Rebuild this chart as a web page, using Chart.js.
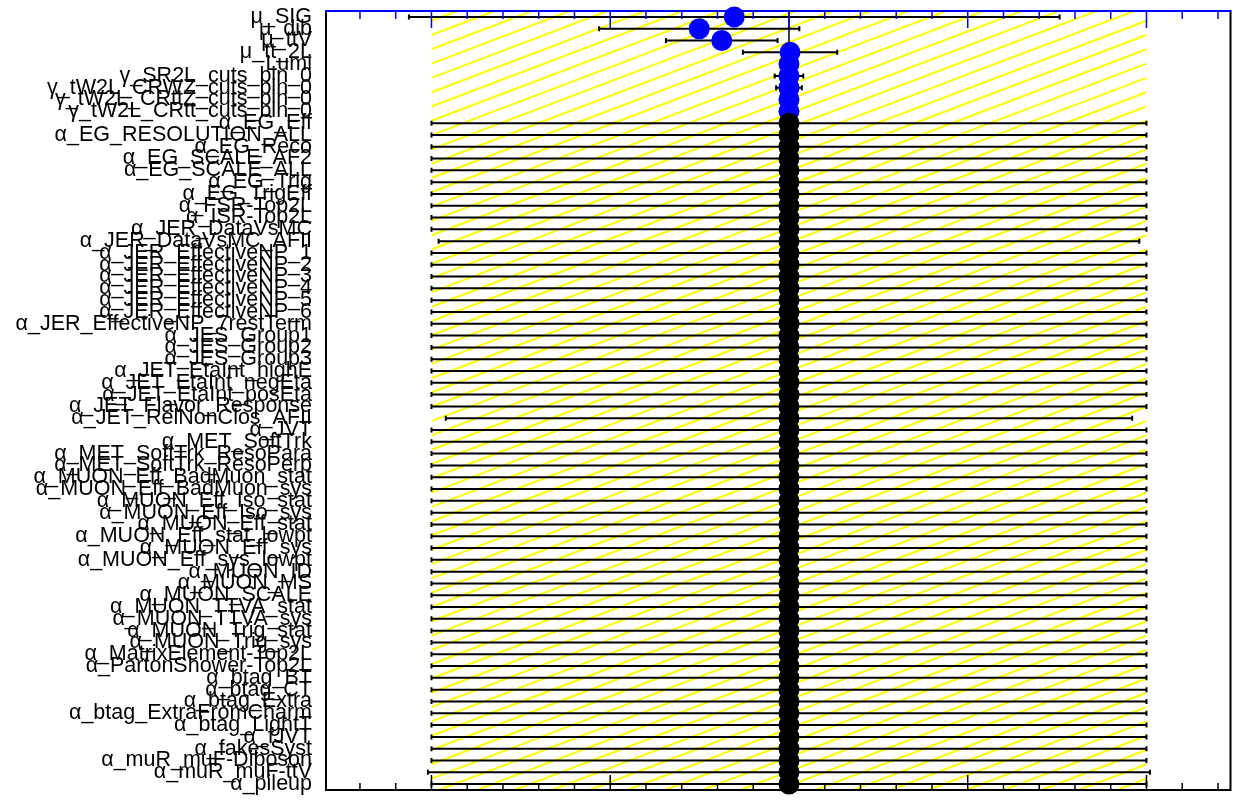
<!DOCTYPE html>
<html>
<head>
<meta charset="utf-8">
<script src="https://cdn.jsdelivr.net/npm/chart.js@4.4.1/dist/chart.umd.min.js"></script>
<style>
  html, body { margin: 0; padding: 0; background: #ffffff; }
</style>
</head>
<body>
<canvas id="pulls" width="1241" height="801"></canvas>
<script>
// ------------------------------------------------------------
//  Data: fitted nuisance parameters / POIs (pull and error)
// ------------------------------------------------------------
const PARAMS = [
  'μ_SIG', 'μ_dib', 'μ_ttV', 'μ_tt_2L', 'Lumi',
  'γ_SR2L_cuts_bin_0', 'γ_tW2L_CRWZ_cuts_bin_0', 'γ_tW2L_CRttZ_cuts_bin_0', 'γ_tW2L_CRtt_cuts_bin_0',
  'α_EG_Eff', 'α_EG_RESOLUTION_ALL', 'α_EG_Reco', 'α_EG_SCALE_AF2', 'α_EG_SCALE_ALL', 'α_EG_Trig', 'α_EG_TrigEff',
  'α_FSR-Top2L', 'α_ISR-Top2L', 'α_JER_DataVsMC', 'α_JER_DataVsMC_AFII',
  'α_JER_EffectiveNP_1', 'α_JER_EffectiveNP_2', 'α_JER_EffectiveNP_3', 'α_JER_EffectiveNP_4',
  'α_JER_EffectiveNP_5', 'α_JER_EffectiveNP_6', 'α_JER_EffectiveNP_7restTerm',
  'α_JES_Group1', 'α_JES_Group2', 'α_JES_Group3',
  'α_JET_EtaInt_highE', 'α_JET_EtaInt_negEta', 'α_JET_EtaInt_posEta', 'α_JET_Flavor_Response', 'α_JET_RelNonClos_AFII',
  'α_JVT', 'α_MET_SoftTrk', 'α_MET_SoftTrk_ResoPara', 'α_MET_SoftTrk_ResoPerp',
  'α_MUON_Eff_BadMuon_stat', 'α_MUON_Eff_BadMuon_sys', 'α_MUON_Eff_Iso_stat', 'α_MUON_Eff_Iso_sys',
  'α_MUON_Eff_stat', 'α_MUON_Eff_stat_lowpt', 'α_MUON_Eff_sys', 'α_MUON_Eff_sys_lowpt',
  'α_MUON_ID', 'α_MUON_MS', 'α_MUON_SCALE', 'α_MUON_TTVA_stat', 'α_MUON_TTVA_sys', 'α_MUON_Trig_stat', 'α_MUON_Trig_sys',
  'α_MatrixElement-Top2L', 'α_PartonShower-Top2L',
  'α_btag_BT', 'α_btag_CT', 'α_btag_Extra', 'α_btag_ExtraFromCharm', 'α_btag_LightT',
  'α_fJVT', 'α_fakesSyst', 'α_muR_muF-Diboson', 'α_muR_muF-ttV', 'α_pileup'
];

const PULLS = [
  -0.153, -0.251, -0.188, 0.003, 0.0,
  0.0, 0.0, 0.0, 0.0,
  0.0, 0.0, 0.0, 0.0, 0.0, 0.0, 0.0,
  0.0, 0.0, 0.0, 0.0,
  0.0, 0.0, 0.0, 0.0,
  0.0, 0.0, 0.0,
  0.0, 0.0, 0.0,
  0.0, 0.0, 0.0, 0.0, 0.0,
  0.0, 0.0, 0.0, 0.0,
  0.0, 0.0, 0.0, 0.0,
  0.0, 0.0, 0.0, 0.0,
  0.0, 0.0, 0.0, 0.0, 0.0, 0.0, 0.0,
  0.0, 0.0,
  0.0, 0.0, 0.0, 0.0, 0.0,
  0.0, 0.0, 0.0, 0.0, 0.0
];

const ERRORS = [
  0.91, 0.28, 0.156, 0.132, 0.02,
  0.04, 0.036, 0.02, 0.02,
  1.0, 1.0, 1.0, 1.0, 1.0, 1.0, 1.0,
  1.0, 1.0, 1.0, 0.98,
  1.0, 1.0, 1.0, 1.0,
  1.0, 1.0, 1.0,
  1.0, 1.0, 1.0,
  1.0, 1.0, 1.0, 1.0, 0.96,
  1.0, 1.0, 1.0, 1.0,
  1.0, 1.0, 1.0, 1.0,
  1.0, 1.0, 1.0, 1.0,
  1.0, 1.0, 1.0, 1.0, 1.0, 1.0, 1.0,
  1.0, 1.0,
  1.0, 1.0, 1.0, 1.0, 1.0,
  1.0, 1.0, 1.0, 1.01, 1.0
];

// Achse
const X_MIN = -1.295;
const X_MAX = 1.235;
const BAND = [-1, 1];                 // gelbes, schraffiertes ±1 Band
const MAJOR_TICKS = [-1, -0.5, 0, 0.5, 1];
const MINOR_STEP = 0.1;

const COLORS = {
  poi:   '#0000ff',
  np:    '#000000',
  hatch: '#ffff00',
  top:   '#0000ff',
  frame: '#000000'
};

// ------------------------------------------------------------
//  Plugin: Band, Fehlerbalken, Rahmen (ROOT-Stil)
// ------------------------------------------------------------
const pullDecor = {
  id: 'pullDecor',
  beforeDatasetsDraw(chart) {
    const { ctx, chartArea: a } = chart;
    const xs = chart.scales.x, ys = chart.scales.y;
    const bl = xs.getPixelForValue(BAND[0]);
    const br = xs.getPixelForValue(BAND[1]);

    // Schraffur
    ctx.save();
    ctx.beginPath();
    ctx.rect(bl, a.top, br - bl, a.bottom - a.top);
    ctx.clip();
    ctx.strokeStyle = COLORS.hatch;
    ctx.lineWidth = 2;
    const slope = 0.38, gap = 14.3, y0 = a.top + 9.7;
    const rise = slope * (br - bl);
    const kMin = Math.floor((a.top - rise - y0) / gap) - 1;
    const kMax = Math.ceil((a.bottom - y0) / gap) + 1;
    for (let k = kMin; k <= kMax; k++) {
      const yr = y0 + k * gap;
      ctx.beginPath();
      ctx.moveTo(bl, yr + rise);
      ctx.lineTo(br, yr);
      ctx.stroke();
    }
    ctx.restore();

    // Null-Linie
    ctx.save();
    const x0 = xs.getPixelForValue(0);
    ctx.strokeStyle = COLORS.np;
    ctx.lineWidth = 1.5;
    ctx.beginPath();
    ctx.moveTo(x0, a.top);
    ctx.lineTo(x0, a.bottom);
    ctx.stroke();

    // Fehlerbalken
    ctx.lineWidth = 2;
    PARAMS.forEach((p, i) => {
      const y = ys.getPixelForValue(i);
      const xl = xs.getPixelForValue(PULLS[i] - ERRORS[i]);
      const xr = xs.getPixelForValue(PULLS[i] + ERRORS[i]);
      ctx.beginPath();
      ctx.moveTo(xl, y); ctx.lineTo(xr, y);
      ctx.moveTo(xl, y - 2.5); ctx.lineTo(xl, y + 2.5);
      ctx.moveTo(xr, y - 2.5); ctx.lineTo(xr, y + 2.5);
      ctx.stroke();
    });

    // Ticks
    const minor = [];
    for (let v = Math.ceil(X_MIN / MINOR_STEP) * MINOR_STEP; v <= X_MAX + 1e-9; v += MINOR_STEP) minor.push(v);
    ctx.lineWidth = 1.5;
    ctx.strokeStyle = COLORS.frame;
    ctx.beginPath();
    minor.forEach(v => {
      const x = xs.getPixelForValue(v);
      ctx.moveTo(x, a.bottom); ctx.lineTo(x, a.bottom - 7);
    });
    MAJOR_TICKS.forEach(v => {
      const x = xs.getPixelForValue(v);
      ctx.moveTo(x, a.bottom); ctx.lineTo(x, a.bottom - 15);
    });
    ctx.stroke();
    ctx.strokeStyle = COLORS.top;
    ctx.beginPath();
    minor.forEach(v => {
      const x = xs.getPixelForValue(v);
      ctx.moveTo(x, a.top); ctx.lineTo(x, a.top + 8);
    });
    MAJOR_TICKS.forEach(v => {
      const x = xs.getPixelForValue(v);
      ctx.moveTo(x, a.top); ctx.lineTo(x, a.top + 17);
    });
    ctx.stroke();

    // Rahmen
    ctx.lineWidth = 2;
    ctx.strokeStyle = COLORS.frame;
    ctx.beginPath();
    ctx.moveTo(a.left, a.top); ctx.lineTo(a.left, a.bottom);
    ctx.lineTo(a.right, a.bottom); ctx.lineTo(a.right, a.top);
    ctx.stroke();
    ctx.strokeStyle = COLORS.top;
    ctx.beginPath();
    ctx.moveTo(a.left - 1, a.top); ctx.lineTo(a.right + 1, a.top);
    ctx.stroke();
    ctx.restore();
  }
};

new Chart(document.getElementById('pulls'), {
  type: 'scatter',
  data: {
    datasets: [{
      data: PARAMS.map((p, i) => ({ x: PULLS[i], y: p })),
      pointRadius: 10.5,
      pointHoverRadius: 10.5,
      pointBorderWidth: 0,
      pointBackgroundColor: PARAMS.map(p => p.startsWith('α') ? COLORS.np : COLORS.poi),
      clip: false
    }]
  },
  options: {
    responsive: false,
    animation: false,
    devicePixelRatio: 1,
    layout: { padding: { top: 11, bottom: 11, left: 0, right: 8 } },
    plugins: { legend: { display: false }, tooltip: { enabled: false } },
    scales: {
      x: { type: 'linear', min: X_MIN, max: X_MAX, display: false },
      y: {
        type: 'category',
        labels: PARAMS,
        offset: true,
        grid: { display: false, drawTicks: false },
        border: { display: false },
        ticks: {
          autoSkip: false,
          padding: 14,
          color: '#000000',
          font: { family: 'Liberation Sans', size: 21.5 }
        },
        afterFit: s => { s.width = 326; s.paddingTop = 0; s.paddingBottom = 0; }
      }
    }
  },
  plugins: [pullDecor]
});
</script>
</body>
</html>
